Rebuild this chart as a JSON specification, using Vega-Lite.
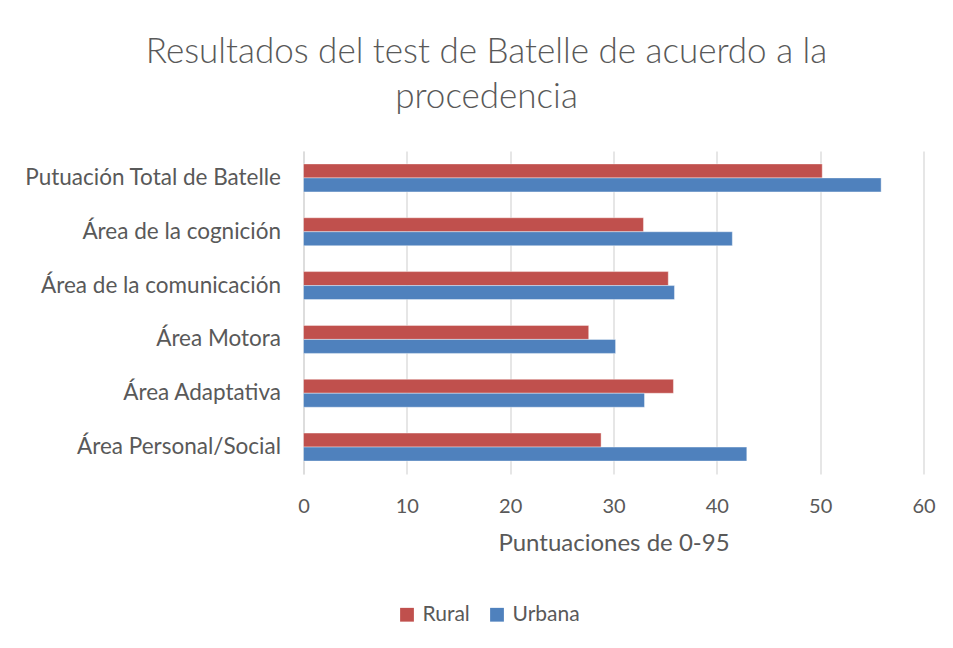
{
  "$schema": "https://vega.github.io/schema/vega-lite/v6.json",
  "autosize": {"type": "none"},
  "width": 620,
  "height": 323,
  "padding": {"left": 303.5, "top": 151, "right": 29.5, "bottom": 174},
  "background": "white",
  "title": {
    "text": ["Resultados del test de Batelle de acuerdo a la", "procedencia"],
    "font": "Lato",
    "fontSize": 35,
    "fontWeight": 300,
    "color": "#595959",
    "lineHeight": 45,
    "anchor": "middle",
    "frame": "group",
    "dx": -127,
    "offset": 36
  },
  "data": {
    "values": [
      {"area": "Putuación Total de Batelle", "serie": "Rural", "valor": 50.2},
      {"area": "Putuación Total de Batelle", "serie": "Urbana", "valor": 55.9},
      {"area": "Área de la cognición", "serie": "Rural", "valor": 32.9},
      {"area": "Área de la cognición", "serie": "Urbana", "valor": 41.5},
      {"area": "Área de la comunicación", "serie": "Rural", "valor": 35.3},
      {"area": "Área de la comunicación", "serie": "Urbana", "valor": 35.9},
      {"area": "Área Motora", "serie": "Rural", "valor": 27.6},
      {"area": "Área Motora", "serie": "Urbana", "valor": 30.2},
      {"area": "Área Adaptativa", "serie": "Rural", "valor": 35.8},
      {"area": "Área Adaptativa", "serie": "Urbana", "valor": 33.0},
      {"area": "Área Personal/Social", "serie": "Rural", "valor": 28.8},
      {"area": "Área Personal/Social", "serie": "Urbana", "valor": 42.9}
    ]
  },
  "mark": {"type": "bar", "stroke": "white", "strokeOpacity": 0.5, "strokeWidth": 0.8},
  "encoding": {
    "y": {
      "field": "area",
      "type": "nominal",
      "sort": null,
      "scale": {"paddingInner": 0.48, "paddingOuter": 0.24},
      "axis": {
        "title": null,
        "ticks": false,
        "domain": true,
        "domainColor": "#d9d9d9",
        "domainWidth": 1.3,
        "labelFont": "Lato",
        "labelFontSize": 22.5,
        "labelColor": "#595959",
        "labelPadding": 23,
        "labelLimit": 400
      }
    },
    "yOffset": {"field": "serie", "type": "nominal", "sort": ["Rural", "Urbana"]},
    "x": {
      "field": "valor",
      "type": "quantitative",
      "scale": {"domain": [0, 60], "nice": false},
      "axis": {
        "title": "Puntuaciones de 0-95",
        "values": [0, 10, 20, 30, 40, 50, 60],
        "ticks": false,
        "domain": false,
        "grid": true,
        "gridColor": "#d9d9d9",
        "gridWidth": 1.3,
        "labelFont": "Lato",
        "labelFontSize": 20,
        "labelColor": "#595959",
        "labelPadding": 22,
        "labelFlush": false,
        "titleFont": "Lato",
        "titleFontSize": 24,
        "titleFontWeight": "normal",
        "titleColor": "#595959",
        "titleX": 310,
        "titleY": 57,
        "titleAlign": "center",
        "titleBaseline": "top"
      }
    },
    "color": {
      "field": "serie",
      "type": "nominal",
      "scale": {"domain": ["Rural", "Urbana"], "range": ["#c0504d", "#4f81bd"]},
      "legend": {
        "title": null,
        "orient": "none",
        "direction": "horizontal",
        "legendX": 93,
        "legendY": 453,
        "symbolType": "square",
        "symbolSize": 190,
        "symbolStrokeWidth": 0,
        "labelFont": "Lato",
        "labelFontSize": 21,
        "labelColor": "#595959",
        "labelOffset": 5,
        "columnPadding": 16
      }
    }
  },
  "config": {"view": {"stroke": null}}
}
